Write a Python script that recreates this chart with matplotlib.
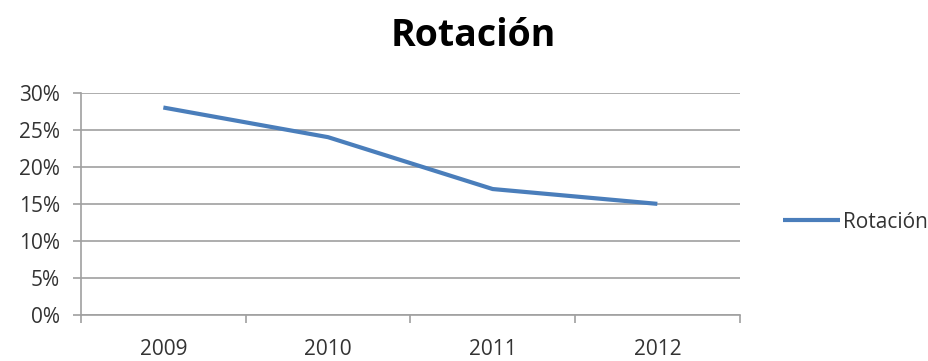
import matplotlib
matplotlib.use("Agg")
import matplotlib.pyplot as plt
from matplotlib.ticker import FixedLocator, NullFormatter

plt.rcParams['font.family'] = ['Open Sans', 'DejaVu Sans']

years = ["2009", "2010", "2011", "2012"]
rotacion = [0.28, 0.24, 0.17, 0.15]
y_ticks = [0.0, 0.05, 0.10, 0.15, 0.20, 0.25, 0.30]
y_labels = ["0%", "5%", "10%", "15%", "20%", "25%", "30%"]

line_color = "#4A7EBB"
grid_color = "#A0A0A0"
text_color = "#333333"

fig = plt.figure(figsize=(9.29, 3.61), dpi=100)
ax = fig.add_axes([0.0872, 0.1274, 0.709, 0.6158])

x = list(range(len(years)))
ax.plot(x, rotacion, color=line_color, linewidth=3, solid_capstyle="butt",
        label="Rotación")

ax.set_xlim(-0.5, len(years) - 0.5)
ax.set_ylim(0, 0.30)

ax.set_yticks(y_ticks)
ax.set_yticklabels(y_labels)
ax.yaxis.grid(True, color=grid_color, linewidth=1.2)
ax.set_axisbelow(True)

ax.set_xticks(x)
ax.set_xticklabels(years)
ax.xaxis.set_minor_locator(FixedLocator([i - 0.5 for i in range(len(years) + 1)]))
ax.xaxis.set_minor_formatter(NullFormatter())
ax.tick_params(axis="x", which="major", length=0, pad=17, labelsize=15,
               labelcolor=text_color)
ax.tick_params(axis="x", which="minor", length=6, color=grid_color, width=1.2)
ax.tick_params(axis="y", length=6, color=grid_color, width=1.2, pad=9,
               labelsize=15, labelcolor=text_color)

for side in ("top", "right"):
    ax.spines[side].set_visible(False)
for side in ("left", "bottom"):
    ax.spines[side].set_color(grid_color)
    ax.spines[side].set_linewidth(1.2)

fig.text(0.509, 1 - 46 / 361, "Rotación", ha="center", va="baseline",
         fontsize=27, fontweight="bold", color="#000000")

fig.legend(loc="center left", bbox_to_anchor=(0.832, 0.385), frameon=False,
           fontsize=15, handlelength=2.7, handletextpad=0.15,
           labelcolor=text_color, borderpad=0)

fig.savefig("out.png", dpi=100)
